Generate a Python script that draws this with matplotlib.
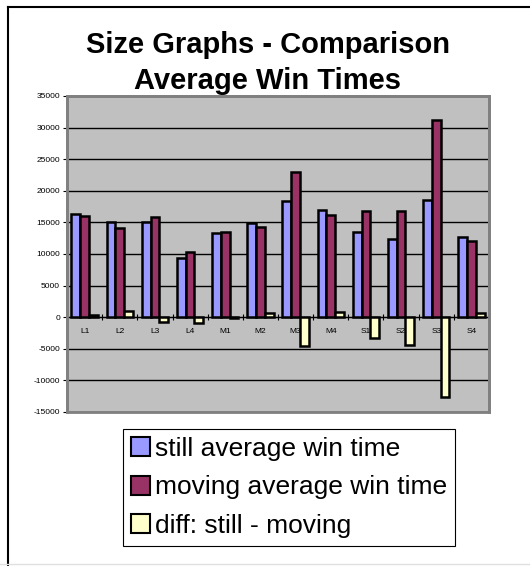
import numpy as np
import matplotlib.pyplot as plt
from matplotlib.lines import Line2D

categorias = ["L1", "L2", "L3", "L4", "M1", "M2", "M3", "M4", "S1", "S2", "S3", "S4"]
still = [16350, 15140, 15030, 9440, 13340, 14870, 18460, 17030, 13450, 12450, 18620, 12710]
moving = [16030, 14080, 15820, 10390, 13500, 14240, 22990, 16240, 16770, 16770, 31220, 12080]
diff = [320, 1060, -790, -950, -160, 630, -4530, 790, -3320, -4320, -12600, 630]
nomes = ["still average win time", "moving average win time", "diff: still - moving"]
cores = ["#9999FF", "#993366", "#FFFFCC"]

plt.rcParams['font.family'] = ['Liberation Sans', 'DejaVu Sans']
plt.rcParams['axes.unicode_minus'] = False

fig = plt.figure(figsize=(5.3, 5.66), dpi=100)
ax = fig.add_axes([67/530, 1-412/566, 422/530, 316/566])
ax.set_facecolor("#C0C0C0")

x = np.arange(len(categorias))
w = 0.25
series = [still, moving, diff]
barras = []
for i in range(3):
    b = ax.bar(x + (i-1)*w, series[i], w, color=cores[i], edgecolor="black",
               linewidth=1.8, label=nomes[i], zorder=3)
    barras.append(b)

ax.set_xlim(-0.5, len(categorias)-0.5)
ax.set_ylim(-15000, 35000)
ax.set_yticks(np.arange(-15000, 35001, 5000))
ax.yaxis.grid(True, color="black", linewidth=1, zorder=1)
ax.set_axisbelow(True)
ax.tick_params(axis="y", labelsize=6, length=3, width=0.8, pad=2)

ax.spines['bottom'].set_position(('data', 0))
ax.spines['bottom'].set_color("black")
ax.spines['bottom'].set_linewidth(0.8)
ax.set_xticks(x)
ax.set_xticklabels(categorias, fontsize=6)
ax.set_xticks(np.arange(-0.5, len(categorias), 1), minor=True)
ax.tick_params(axis="x", which="major", length=0, pad=8)
ax.tick_params(axis="x", which="minor", length=4, width=0.8, direction="inout")
for s in ['top', 'right', 'left']:
    ax.spines[s].set_color("#808080")
    ax.spines[s].set_linewidth(2)

# moldura da área do gráfico
box = plt.Rectangle((67/530, 1-412/566), 422/530, 316/566, transform=fig.transFigure,
                    fill=False, edgecolor="#808080", linewidth=2, zorder=10)
fig.patches.append(box)

fig.add_artist(Line2D([8/530, 8/530], [0, 1-7/566], color="black", linewidth=1.5))
fig.add_artist(Line2D([8/530, 1], [1-7/566, 1-7/566], color="black", linewidth=1.5))
fig.add_artist(Line2D([0, 1], [1-564/566, 1-564/566], color="#E0E0E0", linewidth=1))

fig.text(268/530, 1-45/566, "Size Graphs - Comparison", ha="center", va="center",
         fontsize=21, fontweight="bold")
fig.text(268/530, 1-81/566, "Average Win Times", ha="center", va="center",
         fontsize=21, fontweight="bold")

leg = fig.legend(handles=barras, labels=nomes, loc="upper left",
                 bbox_to_anchor=(123/530, 1-429/566), fontsize=19, frameon=True,
                 fancybox=False, edgecolor="black", framealpha=1,
                 handlelength=0.72, handleheight=0.72, handletextpad=0.2,
                 labelspacing=0.55, borderpad=0.3, borderaxespad=0)
leg.get_frame().set_linewidth(0.8)
for h in leg.legend_handles:
    h.set_linewidth(1.5)

fig.savefig("out.png", dpi=100)
